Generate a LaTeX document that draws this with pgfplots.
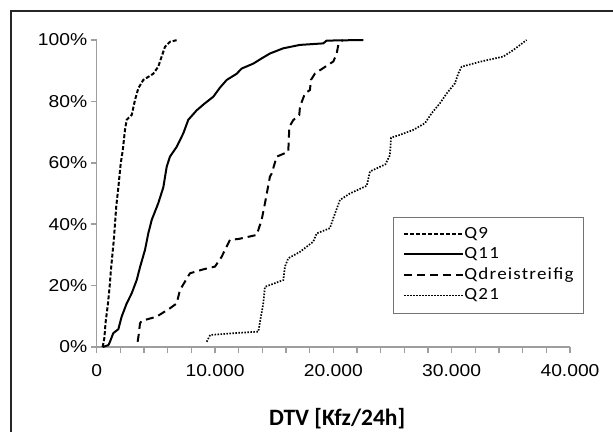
\documentclass[border=0pt]{standalone}
\usepackage{fontspec}
\setmainfont{Liberation Sans}
\newfontfamily\tickfont{Liberation Sans}[FakeStretch=1.12]
\newfontfamily\legfont{Carlito}[FakeStretch=1.12,LetterSpace=7]
\newfontfamily\titlefont{Carlito}
\usepackage{pgfplots}
\pgfplotsset{compat=1.18}
\begin{document}
\begin{tikzpicture}
\useasboundingbox (0,0) rectangle (613bp,432bp);
\fill[white] (0,0) rectangle (613bp,432bp);
\draw[line width=1.3bp, black!85] (11bp,0) -- (11bp,421bp) -- (613bp,421bp);
\begin{axis}[
 at={(96.7bp,85bp)}, anchor=south west, scale only axis,
 width=473.3bp, height=307bp,
 xmin=0, xmax=40000, ymin=0, ymax=100,
 scaled x ticks=false,
 axis x line=bottom, axis y line=left,
 axis line style={-, line width=1.5bp, color=black!38},
 xtick={0,10000,20000,30000,40000},
 xticklabels={0,10.000,20.000,30.000,40.000},
 minor xtick={2000,4000,...,38000},
 ytick={0,20,...,100},
 yticklabels={0\%,20\%,40\%,60\%,80\%,100\%},
 tick align=outside, major tick length=6bp, minor tick length=6bp,
 every tick/.style={line width=1.5bp, color=black!38},
 minor tick style={line width=1.5bp, color=black!38},
 major tick style={line width=1.5bp, color=black!38},
 ticklabel style={font=\tickfont\fontsize{17.2bp}{20bp}\selectfont, text=black},
 xticklabel style={yshift=-8bp},
 xlabel={DTV [Kfz/24h]},
 xlabel style={font=\titlefont\bfseries\fontsize{23.5bp}{26bp}\selectfont, at={(axis description cs:0.508,-0.232)}, anchor=center},
 clip=false,
 legend style={at={(0.626,0.4235)}, anchor=north west, draw=black!55, line width=1bp, fill=white,
   inner xsep=10bp, inner ysep=11bp, row sep=7.5bp,
   font=\legfont\fontsize{17bp}{19bp}\selectfont,
   nodes={inner sep=0pt, text height=10bp, text depth=3bp}},
 legend cell align=left,
 legend image code/.code={\draw[#1] (0bp,1bp) -- (59bp,1bp);},
]
\addplot[black, line width=2bp, dash pattern=on 4bp off 2bp] coordinates {
(500,0) (650,3) (750,8) (950,14) (1100,20) (1200,25) (1450,35) (1650,45.7) (1830,52) (2030,59.8) (2200,64) (2390,70.7) (2535,74) (2960,75.6) (3240,80.5) (3520,84.3) (3940,87) (4780,89) (5200,91.3) (5490,94.6) (5770,97.8) (6190,99.4) (6810,100)
};
\addlegendentry{Q9}
\addplot[black, line width=2bp] coordinates {
(500,0) (980,0.6) (1100,1.5) (1400,4.5) (1830,5.8) (2110,9.9) (2535,14.2) (2960,17.5) (3380,21.8) (3660,26) (4080,31.6) (4360,37) (4650,41.4) (5200,46.8) (5630,52) (5915,58.7) (6190,62) (6760,65.2) (7320,69.6) (7740,74) (8450,77.1) (9150,79.4) (9850,81.5) (10420,84.5) (10990,87) (11830,89) (12250,90.7) (13230,92.3) (13940,94) (14640,95.6) (15770,97.3) (17180,98.4) (19150,98.9) (19430,99.8) (22530,100)
};
\addlegendentry{Q11}
\addplot[black, line width=2bp, dash pattern=on 8bp off 5bp] coordinates {
(3460,1.7) (3550,4) (3660,7.7) (3800,8.5) (5070,9.9) (6190,12.6) (6760,14.2) (7040,18.6) (7880,24) (9010,25.3) (10000,26.2) (10560,29.4) (11260,34.9) (12000,35.2) (13520,36.5) (13940,41.4) (14220,46.8) (14640,55.5) (14790,56.5) (15210,62) (16190,63.6) (16280,71.7) (16610,73.9) (17120,75.6) (17180,78.3) (17600,82.6) (18020,83.7) (18110,87) (18450,89.1) (20000,93) (20280,95.6) (20420,98.4) (20560,99.2) (20800,100)
};
\addlegendentry{Qdreistreifig}
\addplot[black, line width=1.7bp, dash pattern=on 1.5bp off 1.5bp] coordinates {
(9300,1.7) (9580,3.9) (11550,4.5) (13660,5) (13800,8.2) (14080,14.2) (14220,19.6) (15770,21.8) (15910,26.2) (16190,28.9) (17180,31) (18300,34.3) (18590,37) (19710,38.7) (20000,42) (20560,47.9) (21400,50) (22820,52.5) (23100,57.2) (24400,59.5) (24780,62.5) (24880,68.2) (25630,69.1) (26750,70.7) (27740,72.9) (28300,76.1) (29010,79.4) (29580,82.6) (30280,85.9) (30560,89.1) (30840,91.3) (32390,92.9) (34360,94.6) (35200,96.7) (36330,100)
};
\addlegendentry{Q21}
\end{axis}
\end{tikzpicture}
\end{document}
